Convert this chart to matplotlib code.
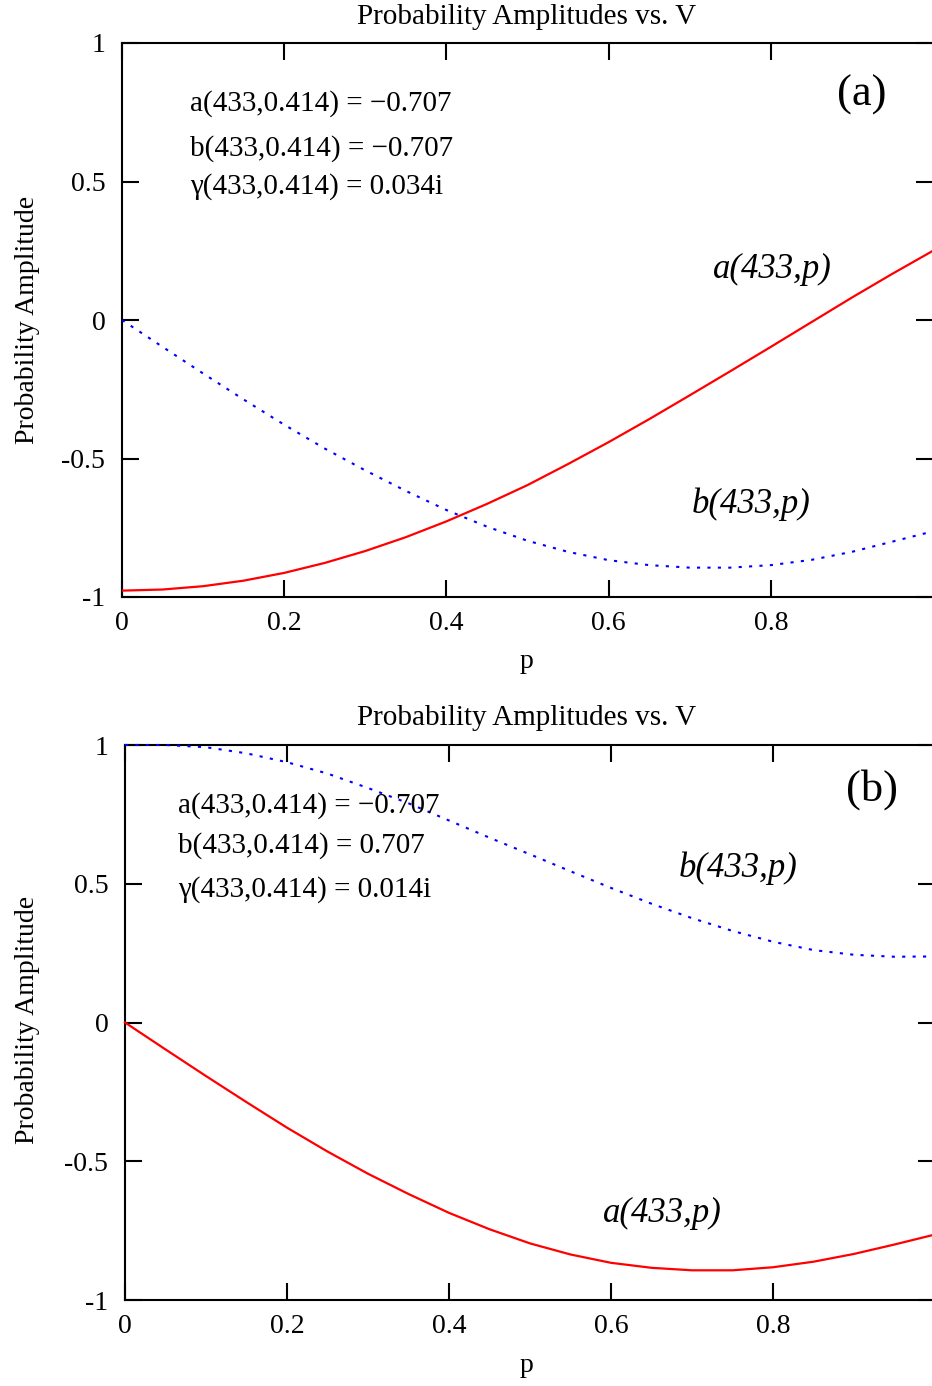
import matplotlib
matplotlib.use('Agg')
import matplotlib.pyplot as plt

# values, p step 0.05
p = [0.00, 0.05, 0.10, 0.15, 0.20, 0.25, 0.30, 0.35, 0.40, 0.45, 0.50,
     0.55, 0.60, 0.65, 0.70, 0.75, 0.80, 0.85, 0.90, 0.95, 1.00]

a_panel_a = [-0.977, -0.973, -0.961, -0.941, -0.913, -0.877, -0.834, -0.784, -0.727, -0.664, -0.596,
             -0.520, -0.441, -0.358, -0.272, -0.185, -0.097, -0.008, 0.081, 0.167, 0.250]
b_panel_a = [0.000, -0.097, -0.193, -0.287, -0.378, -0.464, -0.543, -0.617, -0.686, -0.746, -0.797,
             -0.837, -0.867, -0.885, -0.894, -0.894, -0.885, -0.866, -0.837, -0.800, -0.763]

a_panel_b = [0.000, -0.097, -0.193, -0.287, -0.379, -0.465, -0.545, -0.618, -0.686, -0.745, -0.796,
             -0.836, -0.866, -0.884, -0.893, -0.893, -0.882, -0.862, -0.834, -0.800, -0.764]
b_panel_b = [1.000, 1.000, 0.992, 0.970, 0.938, 0.897, 0.845, 0.790, 0.728, 0.666, 0.606,
             0.545, 0.485, 0.428, 0.376, 0.330, 0.291, 0.261, 0.244, 0.237, 0.238]

notes_a = ['a(433,0.414) = \u22120.707', 'b(433,0.414) = \u22120.707', '\u03b3(433,0.414) = 0.034i']
notes_b = ['a(433,0.414) = \u22120.707', 'b(433,0.414) = 0.707', '\u03b3(433,0.414) = 0.014i']

xticks = [0, 0.2, 0.4, 0.6, 0.8]
xtick_labels = ['0', '0.2', '0.4', '0.6', '0.8']
yticks = [-1, -0.5, 0, 0.5, 1]
ytick_labels = ['-1', '-0.5', '0', '0.5', '1']

title = 'Probability Amplitudes vs. V'

plt.rcParams['font.family'] = ['Liberation Serif', 'DejaVu Serif']

W, H = 932, 1386
fig = plt.figure(figsize=(W / 100, H / 100), dpi=100)


def px_box(left, top, right, bottom):
	return [left / W, 1 - bottom / H, (right - left) / W, (bottom - top) / H]


def style_axes(ax):
	ax.set_xlim(0, 1)
	ax.set_ylim(-1, 1)
	ax.set_xticks(xticks)
	ax.set_xticklabels(xtick_labels)
	ax.set_yticks(yticks)
	ax.set_yticklabels(ytick_labels)
	for s in ax.spines.values():
		s.set_linewidth(1.5)
	ax.tick_params(direction='in', length=12, width=1.5, labelsize=20,
				   top=True, right=True)
	ax.tick_params(axis='x', pad=10)
	ax.tick_params(axis='y', pad=12)


# panel (a)
ax1 = fig.add_axes(px_box(122, 43, 933, 597))
style_axes(ax1)
ax1.plot(p, a_panel_a, color='red', lw=1.6, zorder=3)
ax1.plot(p, b_panel_a, color='blue', lw=1.5, dashes=(1.5, 3.5), zorder=3)
for txt, yv in zip(notes_a, [0.755, 0.592, 0.455]):
	ax1.text(0.084, yv, txt, fontsize=21, va='baseline')
ax1.text(0.912, 0.812, '(a)', fontsize=32, ha='center', va='center')
ax1.text(0.729, 0.152, 'a(433,p)', fontsize=25, style='italic', va='baseline')
ax1.text(0.703, -0.697, 'b(433,p)', fontsize=25, style='italic', va='baseline')

# panel (b)
ax2 = fig.add_axes(px_box(125, 745, 935, 1300))
style_axes(ax2)
ax2.plot(p, a_panel_b, color='red', lw=1.6, zorder=3, clip_on=False)
ax2.plot(p, b_panel_b, color='blue', lw=1.5, dashes=(1.5, 3.5), zorder=3, clip_on=False)
for txt, yv in zip(notes_b, [0.756, 0.611, 0.452]):
	ax2.text(0.065, yv, txt, fontsize=21, va='baseline')
ax2.text(0.922, 0.841, '(b)', fontsize=32, ha='center', va='center')
ax2.text(0.683, 0.524, 'b(433,p)', fontsize=25, style='italic', va='baseline')
ax2.text(0.590, -0.719, 'a(433,p)', fontsize=25, style='italic', va='baseline')

# titles and axis labels
for yc in [17, 718]:
	fig.text(527 / W, 1 - yc / H, title, fontsize=21, ha='center', va='center')
for yc in [662, 1365]:
	fig.text(527 / W, 1 - yc / H, 'p', fontsize=20, ha='center', va='center')
for yc in [320, 1020]:
	fig.text(28 / W, 1 - yc / H, 'Probability Amplitude', fontsize=20,
			 rotation=90, ha='center', va='center')

fig.savefig('out.png', dpi=100)
